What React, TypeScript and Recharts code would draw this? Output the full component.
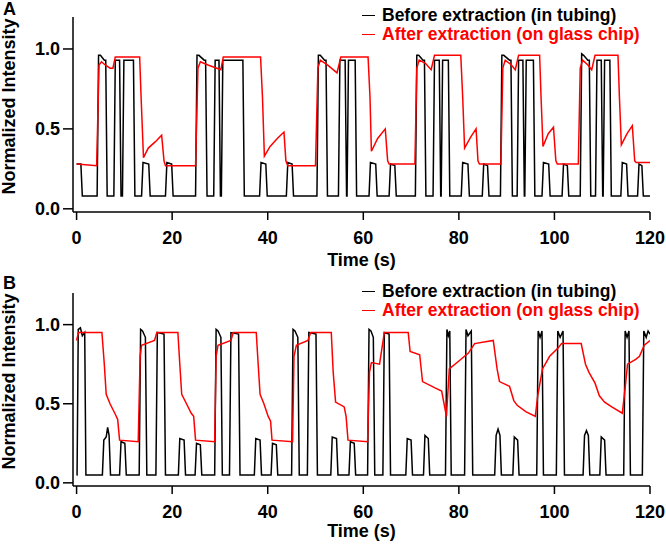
import React from 'react'
import { LineChart, Line, XAxis, YAxis, Legend } from 'recharts'

const FONT = '"Liberation Sans", Arial, Helvetica, sans-serif'

// x ticks (s) and y ticks (normalized intensity)
const timeTicks = [0, 20, 40, 60, 80, 100, 120]
const intensityTicks = [0, 0.5, 1.0]

const seriesNames = ['Before extraction (in tubing)', 'After extraction (on glass chip)']
const seriesColors = ['#000000', '#ff0000']

// Panel A, before extraction: [time s, intensity]
const beforeA: [number, number][] = [
  [0, 0.28], [0.9, 0.28], [1.2, 0.08],
  [4.3, 0.08], [4.6, 0.96], [5.0, 0.96], [5.8, 0.93], [6.1, 0.93], [6.4, 0.08], [7.8, 0.08], [8.1, 0.93], [9.0, 0.93], [9.3, 0.08],
  [9.6, 0.08], [9.9, 0.93], [11.9, 0.93], [12.2, 0.08], [13.6, 0.08], [13.9, 0.29], [15.1, 0.28], [15.4, 0.08],
  [18.6, 0.08], [18.9, 0.29], [19.9, 0.28], [20.2, 0.08],
  [24.9, 0.08], [25.2, 0.96], [25.6, 0.96], [26.7, 0.93], [27.0, 0.93], [27.3, 0.08], [28.7, 0.08], [29.0, 0.93], [29.8, 0.93], [30.1, 0.08],
  [30.3, 0.08], [30.6, 0.93], [34.8, 0.93], [35.1, 0.08], [38.3, 0.08], [38.6, 0.29], [39.6, 0.28], [39.9, 0.08],
  [43.9, 0.08], [44.2, 0.29], [45.1, 0.28], [45.4, 0.08],
  [50.3, 0.08], [50.6, 0.96], [51.0, 0.96], [51.9, 0.93], [52.2, 0.93], [52.5, 0.08], [54.8, 0.08], [55.1, 0.93], [56.2, 0.93], [56.5, 0.08],
  [56.6, 0.08], [56.9, 0.93], [58.3, 0.93], [58.6, 0.08], [61.2, 0.08], [61.5, 0.29], [62.6, 0.28], [62.9, 0.08],
  [65.4, 0.08], [65.7, 0.28], [66.6, 0.27], [66.9, 0.08],
  [70.9, 0.08], [71.2, 0.96], [71.6, 0.96], [72.5, 0.93], [72.8, 0.93], [73.1, 0.08], [74.6, 0.08], [74.9, 0.93], [75.9, 0.93], [76.2, 0.08],
  [76.3, 0.08], [76.6, 0.93], [77.8, 0.93], [78.1, 0.08], [80.5, 0.08], [80.8, 0.29], [81.9, 0.28], [82.2, 0.08],
  [84.9, 0.08], [85.2, 0.28], [86.0, 0.27], [86.3, 0.08],
  [88.7, 0.08], [89.0, 0.96], [89.4, 0.96], [90.6, 0.93], [90.9, 0.93], [91.2, 0.08], [92.2, 0.08], [92.5, 0.93], [93.4, 0.93], [93.7, 0.08],
  [93.8, 0.08], [94.1, 0.93], [95.6, 0.93], [95.9, 0.08], [97.4, 0.08], [97.7, 0.29], [98.8, 0.28], [99.1, 0.08],
  [101.6, 0.08], [101.9, 0.28], [102.7, 0.27], [103.0, 0.08],
  [105.4, 0.08], [105.7, 0.97], [106.1, 0.96], [107.0, 0.93], [107.3, 0.93], [107.6, 0.08], [108.6, 0.08], [108.9, 0.93], [109.8, 0.93], [110.1, 0.08],
  [110.2, 0.08], [110.5, 0.93], [111.6, 0.93], [111.9, 0.08], [113.9, 0.08], [114.2, 0.29], [115.1, 0.28], [115.4, 0.08],
  [117.4, 0.08], [117.7, 0.28], [118.3, 0.27], [118.6, 0.08], [120, 0.08],
]

// Panel A, after extraction
const afterA: [number, number][] = [
  [0, 0.28], [4.2, 0.27], [4.7, 0.9], [5.2, 0.92], [6.0, 0.9], [7.0, 0.88], [7.6, 0.88], [8.1, 0.95], [13.2, 0.95], [13.5, 0.7],
  [14.0, 0.32], [15.0, 0.38], [16.5, 0.42], [17.8, 0.46], [18.3, 0.3], [18.6, 0.27], [24.9, 0.27],
  [25.4, 0.88], [25.9, 0.92], [27.5, 0.9], [30.2, 0.87], [30.7, 0.95], [38.5, 0.95], [38.9, 0.7], [39.3, 0.33], [40.5, 0.39],
  [42.0, 0.44], [43.4, 0.48], [43.8, 0.3], [44.2, 0.27], [50.0, 0.27],
  [50.5, 0.88], [51.0, 0.93], [52.5, 0.9], [54.5, 0.85], [55.3, 0.95], [61.0, 0.95], [61.4, 0.7], [61.7, 0.36], [63.0, 0.44],
  [64.6, 0.5], [65.1, 0.3], [65.4, 0.28], [70.8, 0.28],
  [71.2, 0.88], [71.7, 0.93], [73.0, 0.91], [74.2, 0.87], [74.9, 0.96], [80.4, 0.96], [80.8, 0.7], [81.2, 0.38], [82.5, 0.45],
  [83.6, 0.5], [84.0, 0.3], [84.3, 0.28], [88.8, 0.28],
  [89.2, 0.88], [89.7, 0.93], [91.0, 0.9], [91.8, 0.87], [92.5, 0.96], [96.9, 0.96], [97.2, 0.7], [97.6, 0.39], [98.7, 0.47],
  [99.8, 0.51], [100.3, 0.3], [100.6, 0.28], [105.0, 0.28],
  [105.4, 0.88], [105.9, 0.93], [107.0, 0.9], [107.8, 0.87], [108.5, 0.96], [113.3, 0.96], [113.6, 0.7], [114.0, 0.4], [115.2, 0.47],
  [116.3, 0.52], [116.8, 0.3], [117.1, 0.29], [120, 0.29],
]

// Panel B, before extraction
const beforeB: [number, number][] = [
  [0, 0.05], [0.1, 0.05], [0.35, 0.97], [0.8, 0.98], [1.2, 0.93], [1.7, 0.95], [1.95, 0.05],
  [5.4, 0.05], [5.7, 0.27], [6.2, 0.29], [6.5, 0.35], [6.8, 0.3], [7.1, 0.05], [9.0, 0.05], [9.3, 0.26], [10.1, 0.25], [10.4, 0.05],
  [13.1, 0.05], [13.4, 0.97], [13.8, 0.96], [14.4, 0.92], [14.7, 0.05], [16.6, 0.05], [16.9, 0.95], [18.3, 0.94], [18.6, 0.05],
  [21.3, 0.05], [21.6, 0.28], [22.5, 0.27], [22.8, 0.05], [24.8, 0.05], [25.1, 0.25], [25.9, 0.24], [26.2, 0.05],
  [28.9, 0.05], [29.2, 0.97], [29.6, 0.96], [30.2, 0.92], [30.5, 0.05], [32.0, 0.05], [32.3, 0.95], [33.9, 0.94], [34.2, 0.05],
  [37.2, 0.05], [37.5, 0.28], [38.4, 0.27], [38.7, 0.05], [40.7, 0.05], [41.0, 0.25], [41.8, 0.24], [42.1, 0.05],
  [45.0, 0.05], [45.3, 0.97], [45.7, 0.96], [46.3, 0.92], [46.6, 0.05], [48.3, 0.05], [48.6, 0.95], [50.1, 0.94], [50.4, 0.05],
  [53.2, 0.05], [53.5, 0.29], [54.4, 0.28], [54.7, 0.05], [57.0, 0.05], [57.3, 0.26], [58.1, 0.25], [58.4, 0.05],
  [60.9, 0.05], [61.2, 0.97], [61.6, 0.96], [62.1, 0.92], [62.4, 0.05], [64.1, 0.05], [64.4, 0.95], [65.4, 0.94], [65.7, 0.05],
  [68.9, 0.05], [69.2, 0.28], [70.0, 0.27], [70.3, 0.05], [72.6, 0.05], [72.9, 0.3], [73.6, 0.28], [73.9, 0.05],
  [77.2, 0.05], [77.5, 0.97], [77.8, 0.93], [78.1, 0.96], [78.4, 0.05], [81.2, 0.05], [81.5, 0.97], [81.9, 0.93], [82.6, 0.96], [82.9, 0.05],
  [87.5, 0.05], [87.8, 0.3], [88.2, 0.34], [88.6, 0.3], [88.9, 0.05], [91.3, 0.05], [91.6, 0.29], [92.3, 0.27], [92.6, 0.05],
  [96.3, 0.05], [96.6, 0.96], [97.0, 0.92], [97.4, 0.96], [97.7, 0.05], [100.4, 0.05], [100.7, 0.96], [101.2, 0.92], [101.8, 0.96], [102.1, 0.05],
  [106.0, 0.05], [106.3, 0.3], [106.7, 0.33], [107.1, 0.3], [107.4, 0.05], [109.5, 0.05], [109.8, 0.29], [110.5, 0.27], [110.8, 0.05],
  [114.5, 0.05], [114.8, 0.96], [115.2, 0.92], [115.6, 0.96], [115.9, 0.05], [118.4, 0.05], [118.7, 0.96], [119.2, 0.92], [119.6, 0.96], [120, 0.94],
]

// Panel B, after extraction
const afterB: [number, number][] = [
  [0, 0.9], [0.4, 0.95], [5.3, 0.95], [5.8, 0.75], [6.2, 0.56], [7.0, 0.5], [8.0, 0.44], [8.6, 0.4], [9.0, 0.27], [12.9, 0.26],
  [13.3, 0.8], [13.6, 0.87], [16.3, 0.9], [16.8, 0.95], [21.2, 0.95], [21.6, 0.75], [22.0, 0.56], [23.0, 0.5], [24.0, 0.44], [24.5, 0.42], [24.9, 0.27], [28.9, 0.26],
  [29.2, 0.8], [29.6, 0.87], [32.3, 0.9], [32.8, 0.95], [37.6, 0.95], [38.0, 0.75], [38.4, 0.56], [39.2, 0.5], [40.1, 0.42], [40.6, 0.39], [40.9, 0.27], [45.2, 0.26],
  [45.5, 0.8], [46.0, 0.87], [48.4, 0.9], [49.0, 0.95], [53.3, 0.95], [53.7, 0.7], [54.2, 0.51], [56.0, 0.48], [56.4, 0.42], [56.8, 0.27], [60.9, 0.26],
  [61.3, 0.7], [61.7, 0.76], [63.4, 0.75], [64.4, 0.95], [69.4, 0.95], [69.8, 0.83], [71.8, 0.81], [72.4, 0.64], [75.0, 0.6], [76.4, 0.58],
  [77.4, 0.42], [78.0, 0.72], [80.0, 0.77], [82.0, 0.82], [83.3, 0.88], [87.2, 0.9],
  [88.0, 0.72], [88.5, 0.64], [90.6, 0.61], [91.5, 0.52], [92.2, 0.49], [94.0, 0.45], [96.0, 0.42], [96.5, 0.55], [97.5, 0.72], [99.0, 0.8],
  [100.7, 0.85], [101.5, 0.88], [105.6, 0.88],
  [106.5, 0.75], [107.2, 0.7], [108.5, 0.63], [109.4, 0.55], [110.5, 0.51], [112.0, 0.48], [114.2, 0.44], [114.8, 0.6], [115.3, 0.75],
  [117.0, 0.78], [117.8, 0.8], [118.8, 0.87], [120, 0.9],
]

const toRows = (pts: [number, number][]) => pts.map(([t, v]) => ({ t, v }))

// keep legend rows in series order (black first)
const renderLegend = (props: any) => {
  const items = [...(props.payload || [])].sort(
    (a: any, b: any) => seriesNames.indexOf(a.value) - seriesNames.indexOf(b.value)
  )
  return (
    <div style={{ fontFamily: FONT }}>
      {items.map((item: any) => (
        <div key={item.value} style={{ display: 'flex', alignItems: 'center', height: 19.6 }}>
          <span style={{ display: 'inline-block', width: 13, borderTop: `1.5px solid ${item.color}`, marginRight: 7 }} />
          <span style={{ color: item.color, fontSize: 17.5, fontWeight: 'bold', lineHeight: '19.6px', whiteSpace: 'nowrap' }}>
            {item.value}
          </span>
        </div>
      ))}
    </div>
  )
}

const tickStyle = { fill: '#000', fontSize: 18, fontWeight: 'bold', fontFamily: FONT }

function Panel({ top, letter, before, after, plotTop, labelDy, xLabelOffset, legendTop }: any) {
  return (
    <div style={{ position: 'absolute', left: 0, top, width: 666, height: 272 }}>
      <div style={{ position: 'absolute', left: 3, top: 0, fontFamily: FONT, fontWeight: 'bold', fontSize: 18, lineHeight: '18px' }}>
        {letter}
      </div>
      <LineChart width={666} height={272} margin={{ top: plotTop, right: 16, bottom: 0, left: 0 }}>
        <XAxis
          type="number"
          dataKey="t"
          domain={[-0.75, 120]}
          ticks={timeTicks}
          allowDataOverflow
          height={60}
          tickSize={8}
          tickMargin={11}
          stroke="#000"
          strokeWidth={1.5}
          tick={tickStyle}
          label={{ value: 'Time (s)', position: 'insideBottom', offset: xLabelOffset, ...tickStyle }}
        />
        <YAxis
          type="number"
          domain={[-0.02, 1.2]}
          ticks={intensityTicks}
          allowDataOverflow
          width={73}
          tickSize={10}
          tickMargin={3}
          stroke="#000"
          strokeWidth={1.5}
          tick={tickStyle}
          tickFormatter={(v: number) => v.toFixed(1)}
          label={{ value: 'Normalized Intensity', angle: -90, position: 'center', dx: -28, dy: labelDy, ...tickStyle }}
        />
        <Legend
          layout="horizontal"
          verticalAlign="middle"
          align="center"
          content={renderLegend}
          wrapperStyle={{ left: 362, top: legendTop, width: 300, height: 40 }}
        />
        <Line data={toRows(before)} dataKey="v" name={seriesNames[0]} stroke={seriesColors[0]} strokeWidth={1.5} dot={false} type="linear" isAnimationActive={false} />
        <Line data={toRows(after)} dataKey="v" name={seriesNames[1]} stroke={seriesColors[1]} strokeWidth={1.5} dot={false} type="linear" isAnimationActive={false} />
      </LineChart>
    </div>
  )
}

export default function App() {
  return (
    <div style={{ position: 'absolute', left: 0, top: 0, width: 666, height: 546, background: '#fff' }}>
      <Panel top={0} letter="A" before={beforeA} after={afterA} plotTop={17} labelDy={-8} xLabelOffset={6} legendTop={5.5} />
      <Panel top={274} letter="B" before={beforeB} after={afterB} plotTop={19} labelDy={-8} xLabelOffset={9} legendTop={7.5} />
    </div>
  )
}
